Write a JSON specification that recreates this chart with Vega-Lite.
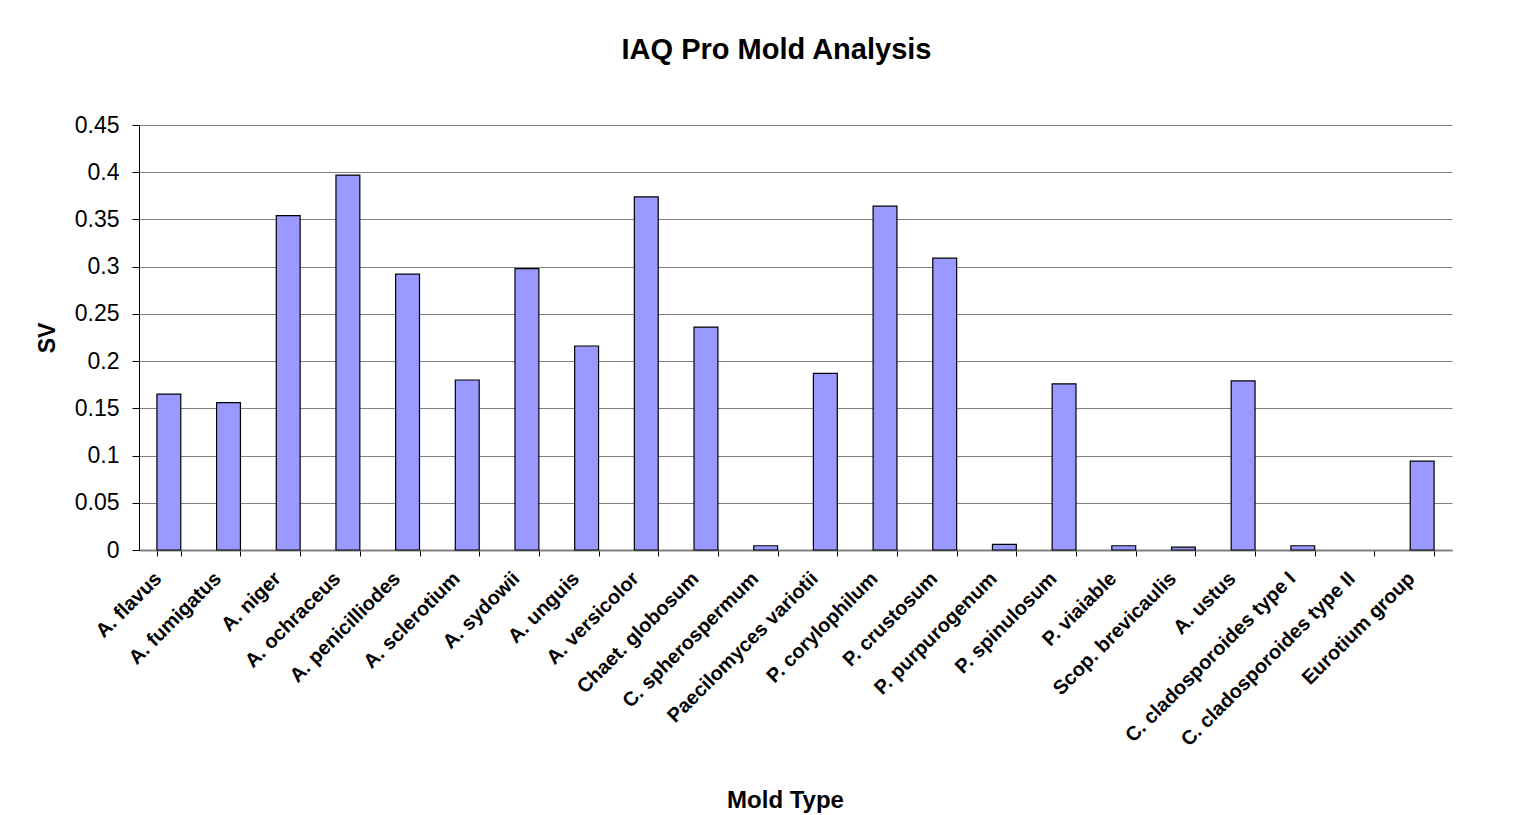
{
  "$schema": "https://vega.github.io/schema/vega-lite/v6.json",
  "autosize": {"type": "none"},
  "width": 1313,
  "height": 425,
  "padding": {"left": 139, "top": 125, "right": 74, "bottom": 265},
  "background": "white",
  "title": {
    "text": "IAQ Pro Mold Analysis",
    "font": "Liberation Sans",
    "fontSize": 29,
    "fontWeight": "bold",
    "color": "black",
    "anchor": "middle",
    "dx": -19,
    "offset": 49
  },
  "data": {
    "values": [
      {"mold": "A. flavus", "sv": 0.165},
      {"mold": "A. fumigatus", "sv": 0.156},
      {"mold": "A. niger", "sv": 0.354},
      {"mold": "A. ochraceus", "sv": 0.397},
      {"mold": "A. penicilliodes", "sv": 0.292},
      {"mold": "A. sclerotium", "sv": 0.180},
      {"mold": "A. sydowii", "sv": 0.298},
      {"mold": "A. unguis", "sv": 0.216},
      {"mold": "A. versicolor", "sv": 0.374},
      {"mold": "Chaet. globosum", "sv": 0.236},
      {"mold": "C. spherospermum", "sv": 0.0045},
      {"mold": "Paecilomyces variotii", "sv": 0.187},
      {"mold": "P. corylophilum", "sv": 0.364},
      {"mold": "P. crustosum", "sv": 0.309},
      {"mold": "P. purpurogenum", "sv": 0.006},
      {"mold": "P. spinulosum", "sv": 0.176},
      {"mold": "P. viaiable", "sv": 0.0045},
      {"mold": "Scop.  brevicaulis", "sv": 0.003},
      {"mold": "A. ustus", "sv": 0.179},
      {"mold": "C. cladosporoides type I", "sv": 0.0045},
      {"mold": "C. cladosporoides type II", "sv": 0},
      {"mold": "Eurotium group", "sv": 0.094}
    ]
  },
  "mark": {"type": "bar", "fill": "#9999ff", "strokeWidth": 1.2},
  "encoding": {
    "stroke": {"condition": {"test": "datum.sv == 0", "value": null}, "value": "black"},
    "x": {
      "field": "mold",
      "type": "nominal",
      "sort": null,
      "scale": {"paddingInner": 0.6, "paddingOuter": 0.3},
      "axis": {
        "title": "Mold Type",
        "titleFont": "Liberation Sans",
        "titleFontSize": 24,
        "titleFontWeight": "bold",
        "titleColor": "black",
        "titleX": 646,
        "titleY": 257,
        "titleAlign": "center",
        "titleBaseline": "alphabetic",
        "labelFont": "Liberation Sans",
        "labelFontSize": 20,
        "labelFontWeight": "bold",
        "labelColor": "black",
        "labelAngle": -45,
        "labelAlign": "right",
        "labelBaseline": "top",
        "labelPadding": 12,
        "labelOffset": -18,
        "labelOverlap": false,
        "labelLimit": 400,
        "tickBand": "extent",
        "tickSize": 6,
        "tickColor": "black",
        "domainColor": "#808080",
        "domainWidth": 2,
        "grid": false
      }
    },
    "y": {
      "field": "sv",
      "type": "quantitative",
      "scale": {"domain": [0, 0.45], "nice": false},
      "axis": {
        "title": "SV",
        "titleFont": "Liberation Sans",
        "titleFontSize": 23,
        "titleFontWeight": "bold",
        "titleColor": "black",
        "titlePadding": 15,
        "values": [0, 0.05, 0.1, 0.15, 0.2, 0.25, 0.3, 0.35, 0.4, 0.45],
        "format": ".2~f",
        "labelFont": "Liberation Sans",
        "labelFontSize": 23,
        "labelColor": "black",
        "labelPadding": 13,
        "tickSize": 7,
        "tickColor": "black",
        "domainColor": "black",
        "grid": true,
        "gridColor": "#808080",
        "gridWidth": 1.2
      }
    }
  },
  "config": {
    "view": {"stroke": null}
  }
}
